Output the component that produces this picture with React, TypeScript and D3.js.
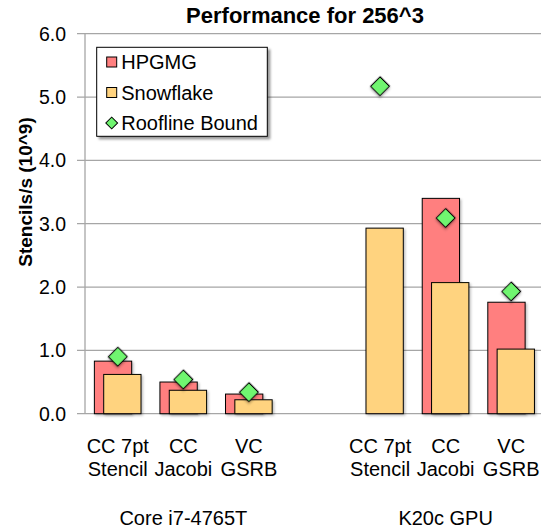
// Externals
import * as d3 from 'd3'
import { FC, useMemo } from 'react'



const WIDTH = 541
const HEIGHT = 531
const MARGIN = { top: 33.7, right: -3, bottom: 117.3, left: 85 }
const FONT = '"Liberation Sans", Arial, sans-serif'

// Data
const PLATFORMS = ['Core i7-4765T', 'K20c GPU']
const KERNEL_LINE1 = ['CC 7pt', 'CC', 'VC']
const KERNEL_LINE2 = ['Stencil', 'Jacobi', 'GSRB']
const HPGMG_CPU = [0.83, 0.5, 0.31]
const HPGMG_GPU = [null, 3.4, 1.76]
const SNOWFLAKE_CPU = [0.62, 0.37, 0.22]
const SNOWFLAKE_GPU = [2.93, 2.07, 1.02]
const ROOFLINE_CPU = [0.9, 0.54, 0.34]
const ROOFLINE_GPU = [5.17, 3.09, 1.93]
const Y_TICKS = [0, 1, 2, 3, 4, 5, 6]

const COLORS = {
  hpgmg: '#ff7f7f',
  snowflake: '#ffd37f',
  roofline: '#70f570',
  grid: '#a6a6a6',
}

const LEGEND = [
  { label: 'HPGMG', color: COLORS.hpgmg, shape: 'square' },
  { label: 'Snowflake', color: COLORS.snowflake, shape: 'square' },
  { label: 'Roofline Bound', color: COLORS.roofline, shape: 'diamond' },
]



type Row = {
  slot: string
  platform: number
  line1: string
  line2: string
  hpgmg: number | null
  snowflake: number
  roofline: number
}



const App: FC = () => {
  const boundsWidth = WIDTH - MARGIN.left - MARGIN.right
  const boundsHeight = HEIGHT - MARGIN.top - MARGIN.bottom

  const rows: Row[] = useMemo(() => {
    const out: Row[] = []
    const hp = [HPGMG_CPU, HPGMG_GPU]
    const sf = [SNOWFLAKE_CPU, SNOWFLAKE_GPU]
    const rf = [ROOFLINE_CPU, ROOFLINE_GPU]
    PLATFORMS.forEach((_, p) => {
      KERNEL_LINE1.forEach((l1, k) => {
        out.push({
          slot: p + '-' + k,
          platform: p,
          line1: l1,
          line2: KERNEL_LINE2[k],
          hpgmg: hp[p][k],
          snowflake: sf[p][k],
          roofline: rf[p][k],
        })
      })
    })
    return out
  }, [])

  // one empty slot between the two platforms
  const slots = [...rows.slice(0, 3).map((r) => r.slot), 'gap', ...rows.slice(3).map((r) => r.slot)]

  const xScale = useMemo(() => {
    return d3.scaleBand().domain(slots).range([0, boundsWidth]).padding(0)
  }, [boundsWidth])

  const yScale = useMemo(() => {
    return d3.scaleLinear().domain([0, 6]).range([boundsHeight, 0])
  }, [boundsHeight])

  const step = xScale.step()
  const barWidth = step * 0.569
  const barStart = step * 0.143
  const overlapShift = barWidth / 4

  const diamond = d3.symbol().type(d3.symbolSquare).size(172)()
  const legendDiamond = d3.symbol().type(d3.symbolSquare).size(70)()

  const grid = Y_TICKS.map((t) => (
    <g key={ t } transform={ `translate(0,${yScale(t)})` }>
      <line x1={ -8 } x2={ boundsWidth } stroke={ COLORS.grid } strokeWidth={ 1.3 } />
      <text
        x={ -19 }
        y={ 7 }
        textAnchor='end'
        fontSize={ 19.5 }
        fill='#000'
      >
        { t.toFixed(1) }
      </text>
    </g>
  ))

  const bars = rows.map((r) => {
    const x0 = (xScale(r.slot) as number) + barStart
    return (
      <g key={ r.slot }>
        { r.hpgmg != null && (
          <rect
            x={ x0 }
            y={ yScale(r.hpgmg) }
            width={ barWidth }
            height={ boundsHeight - yScale(r.hpgmg) }
            fill={ COLORS.hpgmg }
            stroke='#000'
            strokeWidth={ 1 }
            filter='url(#shadow)'
          />
        ) }
        <rect
          x={ x0 + overlapShift }
          y={ yScale(r.snowflake) }
          width={ barWidth }
          height={ boundsHeight - yScale(r.snowflake) }
          fill={ COLORS.snowflake }
          stroke='#000'
          strokeWidth={ 1 }
          filter='url(#shadow)'
        />
      </g>
    )
  })

  const diamonds = rows.map((r) => {
    const cx = (xScale(r.slot) as number) + step / 2
    return (
      <path
        key={ r.slot }
        d={ diamond as string }
        transform={ `translate(${cx},${yScale(r.roofline)}) rotate(45)` }
        fill={ COLORS.roofline }
        stroke='#000'
        strokeWidth={ 1.2 }
        filter='url(#shadow)'
      />
    )
  })

  const categoryLabels = rows.map((r) => {
    const cx = (xScale(r.slot) as number) + step / 2
    return (
      <text key={ r.slot } textAnchor='middle' fontSize={ 20 }>
        <tspan x={ cx } y={ boundsHeight + 39 }>{ r.line1 }</tspan>
        <tspan x={ cx } y={ boundsHeight + 62.5 }>{ r.line2 }</tspan>
      </text>
    )
  })

  const platformLabels = PLATFORMS.map((p, i) => {
    const mid = (xScale(i + '-1') as number) + step / 2
    return (
      <text key={ p } x={ mid } y={ boundsHeight + 111 } textAnchor='middle' fontSize={ 20 }>
        { p }
      </text>
    )
  })

  return (
    <svg
      width={ WIDTH }
      height={ HEIGHT }
      style={ { position: 'absolute', left: 0, top: 0, background: '#fff' } }
      fontFamily={ FONT }
    >
      <defs>
        <filter id='shadow' x='-20%' y='-20%' width='150%' height='150%'>
          <feDropShadow dx='1.5' dy='1.5' stdDeviation='1' floodColor='#000' floodOpacity='0.25' />
        </filter>
        <filter id='legendShadow' x='-10%' y='-10%' width='130%' height='130%'>
          <feDropShadow dx='2.5' dy='2.5' stdDeviation='1' floodColor='#000' floodOpacity='0.4' />
        </filter>
      </defs>

      <text x={ 305 } y={ 22.5 } textAnchor='middle' fontSize={ 22 } fontWeight='bold'>
        Performance for 256^3
      </text>

      <text
        transform='translate(32,192) rotate(-90)'
        textAnchor='middle'
        fontSize={ 19 }
        fontWeight='bold'
      >
        Stencils/s (10^9)
      </text>

      <g transform={ `translate(${MARGIN.left},${MARGIN.top})` }>
        { grid }
        <line x1={ 0 } x2={ 0 } y1={ 0 } y2={ boundsHeight } stroke={ COLORS.grid } strokeWidth={ 1.3 } />
        { bars }
        { diamonds }
        { categoryLabels }
        { platformLabels }
      </g>

      <g transform='translate(96.7,47.3)'>
        <rect
          width={ 170.6 }
          height={ 89 }
          fill='#fff'
          stroke='#000'
          strokeWidth={ 1 }
          filter='url(#legendShadow)'
        />
        { LEGEND.map((item, i) => {
          const cy = 14.7 + i * 30.5
          return (
            <g key={ item.label } transform={ `translate(0,${cy})` }>
              { item.shape === 'square' ? (
                <rect x={ 10 } y={ -5 } width={ 10 } height={ 10 } fill={ item.color } stroke='#000' strokeWidth={ 1 } />
              ) : (
                <path
                  d={ legendDiamond as string }
                  transform='translate(15,0) rotate(45)'
                  fill={ item.color }
                  stroke='#000'
                  strokeWidth={ 1 }
                />
              ) }
              <text x={ 24.5 } y={ 7.2 } fontSize={ 20 }>{ item.label }</text>
            </g>
          )
        }) }
      </g>
    </svg>
  )
}


export default App
